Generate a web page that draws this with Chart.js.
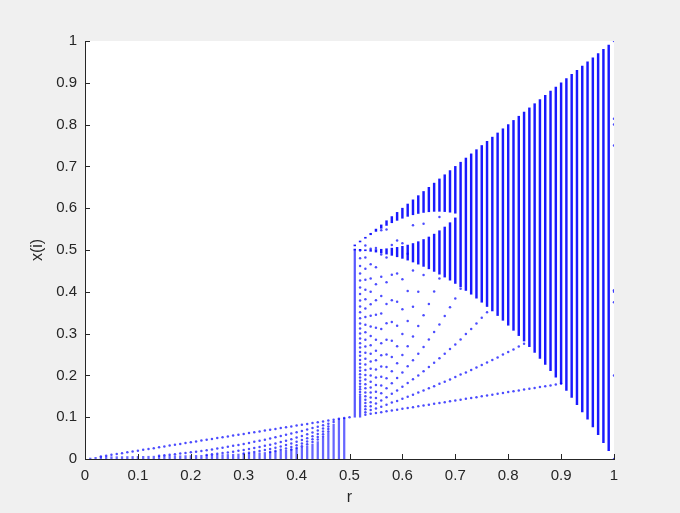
<!DOCTYPE html>
<html>
<head>
<meta charset="utf-8">
<script src="https://cdn.jsdelivr.net/npm/chart.js@4.4.1/dist/chart.umd.min.js"></script>
<style>
  html, body { margin: 0; padding: 0; background: #f0f0f0; }
  canvas { display: block; }
</style>
</head>
<body>
<canvas id="bifurcation" width="680" height="513"></canvas>
<script>
// tick labels
const xTicks = [0, 0.1, 0.2, 0.3, 0.4, 0.5, 0.6, 0.7, 0.8, 0.9, 1];
const yTicks = [0, 0.1, 0.2, 0.3, 0.4, 0.5, 0.6, 0.7, 0.8, 0.9, 1];

// r <= 0.5 : iterates decay to zero
const rLeft = [0.01, 0.02, 0.03, 0.04, 0.05, 0.06, 0.07, 0.08, 0.09, 0.10,
  0.11, 0.12, 0.13, 0.14, 0.15, 0.16, 0.17, 0.18, 0.19, 0.20,
  0.21, 0.22, 0.23, 0.24, 0.25, 0.26, 0.27, 0.28, 0.29, 0.30,
  0.31, 0.32, 0.33, 0.34, 0.35, 0.36, 0.37, 0.38, 0.39, 0.40,
  0.41, 0.42, 0.43, 0.44, 0.45, 0.46, 0.47, 0.48, 0.49, 0.50];
// dense part of each column (from 0 up to this)
const leftBarTop = [0.002, 0.004, 0.0053, 0.0054, 0.0056, 0.0057, 0.0058, 0.006, 0.0061, 0.0063,
  0.0064, 0.0066, 0.0068, 0.0069, 0.0071, 0.0074, 0.0076, 0.0078, 0.0081, 0.0083,
  0.0086, 0.0089, 0.0093, 0.0096, 0.01, 0.0104, 0.0109, 0.0114, 0.0119, 0.0125,
  0.0132, 0.0139, 0.0147, 0.0156, 0.0167, 0.0179, 0.0192, 0.0208, 0.0227, 0.025,
  0.0278, 0.0313, 0.0357, 0.0417, 0.05, 0.0625, 0.0833, 0.096, 0.098, null];
// separate dots above the dense part
const leftDots = [
  [], [], [0.006], [0.008], [0.010], [0.012], [0.014], [0.016], [0.018], [0.020],
  [0.022], [0.024], [0.026], [0.028, 0.0078], [0.030, 0.009], [0.032, 0.0102],
  [0.034, 0.0116], [0.036, 0.013], [0.038, 0.0144], [0.040, 0.016],
  [0.042, 0.0176], [0.044, 0.0194], [0.046, 0.0212, 0.0097], [0.048, 0.023, 0.0111],
  [0.050, 0.025, 0.0125], [0.052, 0.027, 0.0141], [0.054, 0.0292, 0.0157],
  [0.056, 0.0314, 0.0176], [0.058, 0.0336, 0.0195], [0.060, 0.036, 0.0216, 0.013],
  [0.062, 0.0384, 0.0238, 0.0148], [0.064, 0.041, 0.0262, 0.0168],
  [0.066, 0.0436, 0.0288, 0.019], [0.068, 0.0462, 0.0314, 0.0214],
  [0.070, 0.049, 0.0343, 0.024, 0.0168], [0.072, 0.0518, 0.0373, 0.0269, 0.0194],
  [0.074, 0.0548, 0.0405, 0.030, 0.0222], [0.076, 0.0578, 0.0439, 0.0334, 0.0254],
  [0.078, 0.0608, 0.0475, 0.037, 0.0289, 0.0225], [0.080, 0.064, 0.0512, 0.041, 0.0328, 0.0262],
  [0.082, 0.0672, 0.0551, 0.0452, 0.0371, 0.0304], [0.084, 0.0706, 0.0593, 0.0498, 0.0418, 0.0351],
  [0.086, 0.074, 0.0636, 0.0547, 0.047, 0.0405], [0.088, 0.0774, 0.0682, 0.060, 0.0528, 0.0464],
  [0.090, 0.081, 0.0729, 0.0656, 0.059, 0.0531], [0.092, 0.0846, 0.0779, 0.0716, 0.0659],
  [0.094, 0.0884], [0.096], [0.098], [0.100]
];

// r > 0.5 : transient rise from 0.1 before reaching the band
const rRiseBar = [0.51, 0.52];
const riseBarLo = [0.1, 0.1];
const riseBarHi = [0.5, 0.15];
const rRise = [0.52, 0.53, 0.54, 0.55, 0.56, 0.57, 0.58, 0.59, 0.60,
  0.61, 0.62, 0.63, 0.64, 0.65, 0.66, 0.67, 0.68, 0.69, 0.70,
  0.71, 0.72, 0.73, 0.74, 0.75, 0.76, 0.77, 0.78, 0.79, 0.80,
  0.81, 0.82, 0.83, 0.84, 0.85, 0.86, 0.87, 0.88, 0.89, 0.90];
const riseDots = [
  [0.154, 0.160, 0.167, 0.173, 0.180, 0.187, 0.195, 0.203, 0.211, 0.219, 0.228, 0.237, 0.247,
   0.256, 0.267, 0.277, 0.288, 0.300, 0.312, 0.324, 0.337, 0.351, 0.365, 0.379, 0.395, 0.410,
   0.427, 0.444, 0.462, 0.480, 0.499],
  [0.106, 0.112, 0.119, 0.126, 0.134, 0.142, 0.150, 0.159, 0.169, 0.179, 0.190, 0.201, 0.213,
   0.226, 0.240, 0.254, 0.269, 0.285, 0.303, 0.321, 0.340, 0.360, 0.382, 0.405, 0.429, 0.455,
   0.482, 0.511],
  [0.108, 0.117, 0.126, 0.136, 0.147, 0.159, 0.171, 0.185, 0.200, 0.216, 0.233, 0.252, 0.272,
   0.294, 0.317, 0.343, 0.370, 0.400, 0.432, 0.466, 0.503],
  [0.110, 0.121, 0.133, 0.146, 0.161, 0.177, 0.195, 0.214, 0.236, 0.259, 0.285, 0.314, 0.345,
   0.380, 0.418, 0.459, 0.505],
  [0.112, 0.125, 0.140, 0.157, 0.176, 0.197, 0.221, 0.248, 0.277, 0.311, 0.348, 0.390, 0.436,
   0.489, 0.547],
  [0.114, 0.130, 0.148, 0.169, 0.193, 0.220, 0.250, 0.285, 0.325, 0.371, 0.423, 0.482, 0.549],
  [0.116, 0.135, 0.156, 0.181, 0.210, 0.244, 0.283, 0.328, 0.380, 0.441, 0.512],
  [0.118, 0.139, 0.164, 0.194, 0.229, 0.270, 0.319, 0.376, 0.444, 0.523],
  [0.120, 0.144, 0.173, 0.207, 0.249, 0.299, 0.358, 0.430, 0.516],
  [0.122, 0.149, 0.182, 0.222, 0.270, 0.330, 0.402, 0.491],
  [0.124, 0.154, 0.191, 0.236, 0.293, 0.364, 0.451, 0.559],
  [0.126, 0.159, 0.200, 0.252, 0.318, 0.400],
  [0.128, 0.164, 0.210, 0.268, 0.344, 0.440, 0.563],
  [0.130, 0.169, 0.220, 0.286, 0.371],
  [0.132, 0.174, 0.230, 0.304, 0.401],
  [0.134, 0.180, 0.241, 0.322, 0.432, 0.579],
  [0.136, 0.185, 0.252, 0.342],
  [0.138, 0.190, 0.263, 0.363],
  [0.140, 0.196, 0.274, 0.384],
  [0.142, 0.202, 0.286, 0.407],
  [0.144, 0.207, 0.299],
  [0.146, 0.213, 0.311],
  [0.148, 0.219, 0.324],
  [0.150, 0.225, 0.338],
  [0.152, 0.231, 0.351],
  [0.154, 0.237], [0.156, 0.243], [0.158, 0.250], [0.160, 0.256],
  [0.162, 0.262], [0.164, 0.269], [0.166, 0.276],
  [0.168], [0.170], [0.172], [0.174], [0.176], [0.178], [0.180]
];

// two-band chaos (0.51 .. 0.70), upper band tops at r
const rTwoBand = [0.51, 0.52, 0.53, 0.54, 0.55, 0.56, 0.57, 0.58, 0.59, 0.60,
  0.61, 0.62, 0.63, 0.64, 0.65, 0.66, 0.67, 0.68, 0.69, 0.70];
const lowBandLo = [0.4998, 0.4992, 0.4982, 0.4968, 0.495, 0.4928, 0.4902, 0.4872, 0.4838, 0.48,
  0.4758, 0.4712, 0.4662, 0.4608, 0.455, 0.4488, 0.4422, 0.4352, 0.4278, 0.42];
const lowBandHi = [0.5, 0.5, 0.5002, 0.5006, 0.501, 0.5018, 0.503, 0.5044, 0.5063, 0.5088,
  0.5118, 0.5155, 0.5199, 0.5251, 0.5311, 0.538, 0.5461, 0.555, 0.5653, 0.5768];
const upBandLo = [0.5098, 0.5192, 0.5281, 0.5365, 0.5445, 0.5519, 0.5588, 0.5652, 0.5709, 0.576,
  0.5805, 0.5843, 0.5874, 0.5898, 0.5915, 0.5924, 0.5925, 0.5919, 0.5904, 0.588];

// single band (0.71 .. 0.99), tops at r
const rOneBand = [0.71, 0.72, 0.73, 0.74, 0.75, 0.76, 0.77, 0.78, 0.79, 0.80,
  0.81, 0.82, 0.83, 0.84, 0.85, 0.86, 0.87, 0.88, 0.89, 0.90,
  0.91, 0.92, 0.93, 0.94, 0.95, 0.96, 0.97, 0.98, 0.99];
const bandLo = [0.4118, 0.4032, 0.3942, 0.3848, 0.375, 0.3648, 0.3542, 0.3432, 0.3318, 0.32,
  0.3078, 0.2952, 0.2822, 0.2688, 0.255, 0.2408, 0.2262, 0.2112, 0.1958, 0.18,
  0.1638, 0.1472, 0.1302, 0.1128, 0.095, 0.0768, 0.0582, 0.0392, 0.0198];

// r = 1 column, only a few points
const rEdge = 1.0;
const edgeDots = [1.0, 0.814, 0.8, 0.75, 0.404, 0.4, 0.375, 0.2, 0];

function columns(rs, lo, hi) {
  const out = [];
  rs.forEach((r, i) => {
    const top = hi ? hi[i] : r;
    if (top != null) out.push({ x: r, y: [lo[i], top] });
  });
  return out;
}
function dots(rs, lists) {
  const out = [];
  rs.forEach((r, i) => lists[i].forEach(v => out.push({ x: r, y: v })));
  return out;
}

const axisColor = "#262626";
const fontFamily = "'Liberation Sans', Arial, sans-serif";
const barBase = { type: "bar", grouped: false, borderWidth: 0, minBarLength: 1 };

const backdrop = {
  id: "backdrop",
  beforeDraw(chart) {
    const { ctx, chartArea: a } = chart;
    ctx.save();
    ctx.fillStyle = "#f0f0f0";
    ctx.fillRect(0, 0, chart.width, chart.height);
    ctx.fillStyle = "#ffffff";
    ctx.fillRect(a.left, a.top, a.right - a.left, a.bottom - a.top);
    ctx.restore();
  },
  afterDraw(chart) {
    // MATLAB style ticks pointing inside
    const { ctx, chartArea: a, scales: { x, y } } = chart;
    ctx.save();
    ctx.strokeStyle = axisColor;
    ctx.lineWidth = 1;
    ctx.beginPath();
    xTicks.forEach(v => {
      const px = Math.round(x.getPixelForValue(v)) + 0.5;
      ctx.moveTo(px, a.bottom);
      ctx.lineTo(px, a.bottom - 5);
    });
    yTicks.forEach(v => {
      const py = Math.round(y.getPixelForValue(v)) + 0.5;
      ctx.moveTo(a.left, py);
      ctx.lineTo(a.left + 5, py);
    });
    ctx.stroke();
    ctx.restore();
  }
};

new Chart(document.getElementById("bifurcation"), {
  type: "scatter",
  data: {
    datasets: [
      {
        type: "scatter",
        data: dots(rLeft, leftDots)
          .concat(dots(rRise, riseDots))
          .concat(edgeDots.map(v => ({ x: rEdge, y: v }))),
        backgroundColor: "rgba(0, 0, 255, 0.7)",
        borderWidth: 0,
        pointRadius: 1.25,
        pointHoverRadius: 0
      },
      Object.assign({}, barBase, {
        data: columns(rOneBand, bandLo),
        backgroundColor: "rgba(0, 0, 255, 0.9)",
        barThickness: 1.8
      }),
      Object.assign({}, barBase, {
        data: columns(rTwoBand, upBandLo),
        backgroundColor: "rgba(0, 0, 255, 0.9)",
        barThickness: 1.8
      }),
      Object.assign({}, barBase, {
        data: columns(rTwoBand, lowBandLo, lowBandHi),
        backgroundColor: "rgba(0, 0, 255, 0.9)",
        barThickness: 1.8
      }),
      Object.assign({}, barBase, {
        data: columns(rRiseBar, riseBarLo, riseBarHi),
        backgroundColor: "rgba(0, 0, 255, 0.65)",
        barThickness: 1.6
      }),
      Object.assign({}, barBase, {
        data: columns(rLeft, rLeft.map(() => 0), leftBarTop),
        backgroundColor: "rgba(0, 0, 255, 0.6)",
        barThickness: 1.6
      })
    ]
  },
  options: {
    responsive: false,
    animation: false,
    events: [],
    layout: { padding: { top: 41, right: 66, left: 0, bottom: 0 } },
    plugins: {
      legend: { display: false },
      tooltip: { enabled: false }
    },
    scales: {
      x: {
        type: "linear",
        min: 0,
        max: 1,
        offset: false,
        afterBuildTicks: s => { s.ticks = xTicks.map(v => ({ value: v })); },
        afterFit: s => { s.height = 54; },
        grid: { display: false, drawTicks: false },
        border: { display: true, color: axisColor, width: 1 },
        ticks: {
          color: axisColor,
          font: { family: fontFamily, size: 15 },
          padding: 8,
          maxRotation: 0,
          autoSkip: false,
          callback: v => String(Math.round(v * 10) / 10)
        },
        title: {
          display: true,
          text: "r",
          color: axisColor,
          font: { family: fontFamily, size: 16 },
          padding: { top: 0, bottom: 6 }
        }
      },
      y: {
        type: "linear",
        min: 0,
        max: 1,
        afterBuildTicks: s => { s.ticks = yTicks.map(v => ({ value: v })); },
        afterFit: s => { s.width = 85; },
        grid: { display: false, drawTicks: false },
        border: { display: true, color: axisColor, width: 1 },
        ticks: {
          color: axisColor,
          font: { family: fontFamily, size: 15 },
          padding: 8,
          autoSkip: false,
          callback: v => String(Math.round(v * 10) / 10)
        },
        title: {
          display: true,
          text: "x(i)",
          color: axisColor,
          font: { family: fontFamily, size: 16 },
          padding: { top: 28, bottom: 0 }
        }
      }
    }
  },
  plugins: [backdrop]
});
</script>
</body>
</html>
